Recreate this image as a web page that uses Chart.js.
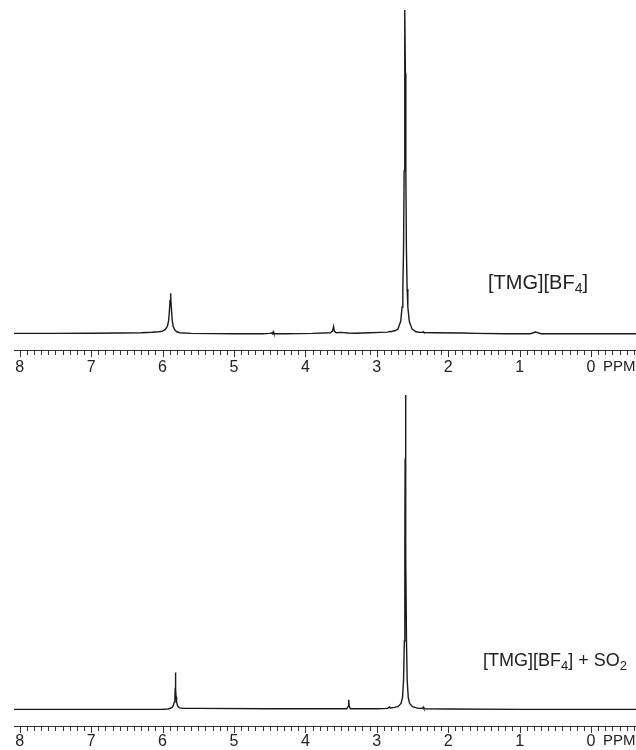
<!DOCTYPE html>
<html>
<head>
<meta charset="utf-8">
<script src="https://cdn.jsdelivr.net/npm/chart.js@4.4.0/dist/chart.umd.min.js"></script>
<style>
  body { margin: 0; background: #fff; }
  #wrap { position: relative; width: 636px; height: 750px; }
  canvas { position: absolute; left: 0; }
</style>
</head>
<body>
<div id="wrap">
  <canvas id="topChart" width="636" height="376" style="top:0"></canvas>
  <canvas id="bottomChart" width="636" height="375" style="top:375px"></canvas>
</div>
<script>
// axis range (ppm) and labelled ticks
var ppmMin = -0.63;
var ppmMax = 8.08;
var majorTicks = [0, 1, 2, 3, 4, 5, 6, 7, 8];

// [TMG][BF4] spectrum (ppm / relative intensity)
var topPpm = [
  8.08, 7.5, 7.0, 6.6, 6.3, 6.15, 6.05, 6.0, 5.96, 5.93, 5.915, 5.905, 5.895, 5.889,
  5.882, 5.875, 5.865, 5.85, 5.83, 5.8, 5.76, 5.6, 5.0, 4.6, 4.5, 4.47, 4.46, 4.45,
  4.44, 4.3, 3.9, 3.65, 3.62, 3.605, 3.595, 3.57, 3.5, 3.4, 3.3, 3.1, 2.95, 2.85,
  2.82, 2.805, 2.75, 2.705, 2.665, 2.645, 2.635, 2.625, 2.617, 2.611, 2.605, 2.599,
  2.593, 2.585, 2.575, 2.565, 2.545, 2.505, 2.45, 2.405, 2.36, 2.35, 2.34, 2.2, 1.8,
  1.6, 1.2, 0.85, 0.78, 0.76, 0.7, 0.0, -0.63
];
var topInt = [
  0.1, 0.1, 0.15, 0.2, 0.3, 0.45, 0.6, 0.8, 1.3, 2.4, 4.0, 6.5, 10.2, 12.4,
  11.0, 7.5, 4.2, 2.2, 1.2, 0.6, 0.3, 0.1, 0.0, 0.0, 0.1, 0.2, 0.0, 0.6,
  0.0, 0.0, 0.1, 0.3, 0.8, 2.2, 0.8, 0.3, 0.4, 0.2, 0.15, 0.3, 0.4, 0.5,
  0.7, 0.6, 0.9, 1.4, 3.8, 8.2, 13.7, 26, 50, 80, 99.4, 80,
  50, 26, 13.7, 8.2, 3.8, 1.4, 0.6, 0.4, 0.4, 0.6, 0.35, 0.3, 0.2,
  0.1, 0.0, 0.0, 0.5, 0.4, 0.0, 0.0, 0.0
];

// [TMG][BF4] + SO2 spectrum
var bottomPpm = [
  8.08, 6.5, 6.0, 5.92, 5.87, 5.85, 5.835, 5.827, 5.823, 5.819, 5.815, 5.811, 5.803,
  5.79, 5.77, 5.72, 5.5, 4.5, 3.6, 3.42, 3.4, 3.393, 3.386, 3.37, 3.0, 2.85, 2.82,
  2.81, 2.75, 2.7, 2.66, 2.64, 2.625, 2.614, 2.607, 2.603, 2.599, 2.595, 2.591,
  2.584, 2.574, 2.559, 2.54, 2.5, 2.42, 2.36, 2.35, 2.34, 2.0, 1.0, 0.0, -0.63
];
var bottomInt = [
  0.1, 0.1, 0.15, 0.2, 0.6, 1.2, 2.3, 4.0, 6.5, 11.4, 6.5, 4.0, 2.3,
  1.2, 0.6, 0.4, 0.4, 0.3, 0.3, 0.3, 1.0, 3.0, 1.0, 0.3, 0.3, 0.4, 0.8,
  0.5, 0.7, 1.0, 1.9, 3.7, 8.9, 21, 48, 77, 96.3, 77, 48,
  21, 8.9, 3.7, 1.9, 0.9, 0.4, 0.4, 0.8, 0.3, 0.2, 0.1, 0.1, 0.1
];

var topLabel = [{ t: '[TMG][BF' }, { t: '4', sub: true }, { t: ']' }];
var bottomLabel = [{ t: '[TMG][BF' }, { t: '4', sub: true }, { t: '] + SO' }, { t: '2', sub: true }];

var fontFamily = '"Liberation Sans", Arial, sans-serif';

function drawRich(ctx, parts, x, y, size) {
  parts.forEach(function (p) {
    var fs = p.sub ? Math.round(size * 0.7) : size;
    ctx.font = fs + 'px ' + fontFamily;
    ctx.fillText(p.t, x, p.sub ? y + size * 0.22 : y);
    x += ctx.measureText(p.t).width;
  });
}

// minor/major tick marks, the PPM unit and the sample label
function spectrumDecor(parts, lx, ly, lsize, unitPad) {
  return {
    id: 'decor',
    afterDraw: function (chart) {
      var ctx = chart.ctx;
      var xs = chart.scales.x;
      var yb = chart.chartArea.bottom;
      ctx.save();
      ctx.strokeStyle = '#333';
      ctx.lineWidth = 1;
      for (var i = Math.ceil(ppmMin * 10); i <= Math.floor(ppmMax * 10); i++) {
        var px = Math.round(xs.getPixelForValue(i / 10)) + 0.5;
        var len = (i % 10 === 0) ? 7 : 5;
        ctx.beginPath();
        ctx.moveTo(px, yb);
        ctx.lineTo(px, yb + len);
        ctx.stroke();
      }
      ctx.fillStyle = '#222';
      ctx.textBaseline = 'top';
      ctx.textAlign = 'left';
      ctx.font = '15px ' + fontFamily;
      ctx.fillText('PPM', xs.getPixelForValue(0) + 12, yb + unitPad);
      ctx.textBaseline = 'alphabetic';
      drawRich(ctx, parts, lx, ly, lsize);
      ctx.restore();
    }
  };
}

function makeConfig(ppm, inten, axisH, labelPad, decor) {
  return {
    type: 'line',
    data: {
      datasets: [{
        data: ppm.map(function (p, i) { return { x: p, y: inten[i] }; }),
        borderColor: '#1a1a1a',
        borderWidth: 1.4,
        pointRadius: 0,
        tension: 0,
        fill: false
      }]
    },
    options: {
      responsive: false,
      animation: false,
      devicePixelRatio: 1,
      layout: { padding: { left: 14, right: 0, top: 8, bottom: 0 } },
      plugins: { legend: { display: false }, tooltip: { enabled: false } },
      scales: {
        x: {
          type: 'linear',
          reverse: true,
          min: ppmMin,
          max: ppmMax,
          afterBuildTicks: function (s) {
            s.ticks = majorTicks.map(function (v) { return { value: v }; });
          },
          afterFit: function (s) { s.height = axisH; },
          ticks: {
            autoSkip: false,
            maxRotation: 0,
            padding: labelPad,
            color: '#222',
            font: { family: fontFamily, size: 16 },
            callback: function (v) { return String(v); }
          },
          grid: { display: false, drawTicks: false },
          border: { display: true, color: '#333', width: 1 }
        },
        y: { display: false, min: -5, max: 100 }
      }
    },
    plugins: [decor]
  };
}

new Chart(document.getElementById('topChart'),
  makeConfig(topPpm, topInt, 26, 8, spectrumDecor(topLabel, 488, 289, 20, 9)));
new Chart(document.getElementById('bottomChart'),
  makeConfig(bottomPpm, bottomInt, 24, 6, spectrumDecor(bottomLabel, 483, 291, 18, 7)));
</script>
</body>
</html>
